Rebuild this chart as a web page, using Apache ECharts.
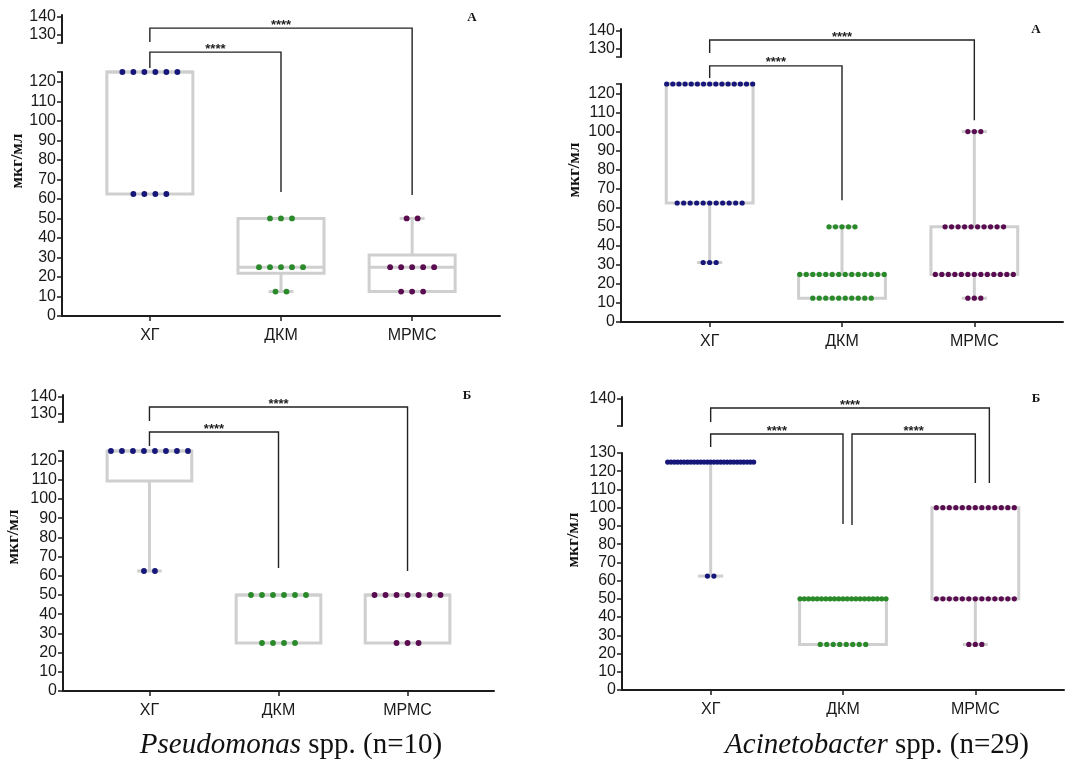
<!DOCTYPE html>
<html>
<head>
<meta charset="utf-8">
<script src="https://cdn.jsdelivr.net/npm/echarts@6/dist/echarts.min.js"></script>
<style>
  html, body { margin: 0; padding: 0; background: #ffffff; }
  #chart { width: 1076px; height: 766px; }
</style>
</head>
<body>
<div id="chart"></div>
<script>
// Groups on the x axis
const groups = ['ХГ', 'ДКМ', 'МРМС'];

// MIC values (мкг/мл) as [value, number of isolates]
// Pseudomonas spp., panel А
const pseudoA_XG   = [[125, 6], [62.5, 4]];
const pseudoA_DKM  = [[50, 3], [25, 5], [12.5, 2]];
const pseudoA_MRMS = [[50, 2], [25, 5], [12.5, 3]];
// Pseudomonas spp., panel Б
const pseudoB_XG   = [[125, 8], [62.5, 2]];
const pseudoB_DKM  = [[50, 6], [25, 4]];
const pseudoB_MRMS = [[50, 7], [25, 3]];
// Acinetobacter spp., panel А
const acinA_XG   = [[125, 15], [62.5, 11], [31.25, 3]];
const acinA_DKM  = [[50, 5], [25, 14], [12.5, 10]];
const acinA_MRMS = [[100, 3], [50, 10], [25, 13], [12.5, 3]];
// Acinetobacter spp., panel Б
const acinB_XG   = [[125, 27], [62.5, 2]];
const acinB_DKM  = [[50, 21], [25, 8]];
const acinB_MRMS = [[100, 13], [50, 13], [25, 3]];

// Pairwise comparisons: [group a, group b, significance]
const sigTwo   = [[0, 2, '****'], [0, 1, '****']];
const sigThree = [[0, 2, '****'], [0, 1, '****'], [1, 2, '****']];

// Tick values of the broken y axis
const ticksLow125 = [0, 10, 20, 30, 40, 50, 60, 70, 80, 90, 100, 110, 120];
const ticksLow130 = [0, 10, 20, 30, 40, 50, 60, 70, 80, 90, 100, 110, 120, 130];
const ticksHigh   = [130, 140];
const ticksHighB  = [140];

const groupColors = ['#17177a', '#2a8a2a', '#5a0c50'];

// Panel geometry and bracket placement (bracket heights in lower-axis units)
const panels = [
  {
    data: [pseudoA_XG, pseudoA_DKM, pseudoA_MRMS], sig: sigTwo, letter: 'А',
    lower: { left: 62, top: 72, width: 438, height: 244 },
    upper: { left: 62, top: 15, width: 438, height: 28 },
    yMax: 125, lowTicks: ticksLow125, highTicks: ticksHigh,
    title: [17.5, 161], letterPos: [472, 18], step: 11, r: 2.9,
    brackets: [[147.5, 140.4, 62, 0, 0], [135.2, 127, 63.5, 0, 0]]
  },
  {
    data: [acinA_XG, acinA_DKM, acinA_MRMS], sig: sigTwo, letter: 'А',
    lower: { left: 621, top: 84, width: 442, height: 238 },
    upper: { left: 621, top: 29, width: 442, height: 28 },
    yMax: 125, lowTicks: ticksLow125, highTicks: ticksHigh,
    title: [575, 170], letterPos: [1036, 30], step: 6.5, r: 2.6,
    brackets: [[148.1, 141.3, 106, 0, 0], [134.5, 128.2, 64, 0, 0]]
  },
  {
    data: [pseudoB_XG, pseudoB_DKM, pseudoB_MRMS], sig: sigTwo, letter: 'Б',
    lower: { left: 63, top: 451, width: 431, height: 240 },
    upper: { left: 63, top: 395, width: 431, height: 27 },
    yMax: 125, lowTicks: ticksLow125, highTicks: ticksHigh,
    title: [14, 537], letterPos: [467, 396], step: 11, r: 2.9,
    brackets: [[147.9, 140.6, 62.5, 0, 0], [134.9, 127.6, 64, 0, 0]]
  },
  {
    data: [acinB_XG, acinB_DKM, acinB_MRMS], sig: sigThree, letter: 'Б',
    lower: { left: 622, top: 453, width: 442, height: 237 },
    upper: { left: 622, top: 397, width: 442, height: 29 },
    yMax: 130, lowTicks: ticksLow130, highTicks: ticksHighB,
    title: [574, 540], letterPos: [1036, 399], step: 6.5, r: 2.6,
    brackets: [[154.7, 147, 113.5, 0, 0.106], [140.4, 133.3, 91, 0, 0], [140.4, 90.5, 113.5, 0.068, 0]]
  }
];

const X_MIN = 0.33, X_MAX = 3.67;
const BOX_HALF = 0.328, CAP_HALF = 0.095, DOT_SPAN = 86;
const AXIS_COLOR = '#1c1c1c';
const SANS = "'Liberation Sans', Arial, sans-serif";
const SERIF = "'Liberation Serif', 'Times New Roman', serif";

// Sorted list of all values in a group
function expand(rows) {
  const v = [];
  rows.forEach(([val, n]) => { for (let i = 0; i < n; i++) v.push(val); });
  return v.sort((a, b) => a - b);
}
// Percentile with (n+1)p positioning
function pct(s, p) {
  const pos = (s.length + 1) * p;
  const lo = Math.floor(pos), f = pos - lo;
  if (lo < 1) return s[0];
  if (lo >= s.length) return s[s.length - 1];
  return s[lo - 1] + f * (s[lo] - s[lo - 1]);
}

const grid = [], xAxis = [], yAxis = [], series = [], graphic = [];

panels.forEach((P, p) => {
  const gLow = 2 * p, gHigh = 2 * p + 1;
  grid.push(Object.assign({}, P.lower), Object.assign({}, P.upper));

  xAxis.push({
    type: 'value', gridIndex: gLow, min: X_MIN, max: X_MAX,
    axisLine: { show: true, onZero: false, lineStyle: { color: AXIS_COLOR, width: 2 } },
    axisTick: { show: true, customValues: [1, 2, 3], length: 5, lineStyle: { color: AXIS_COLOR, width: 1.5 } },
    axisLabel: {
      customValues: [1, 2, 3], formatter: v => groups[Math.round(v) - 1] || '',
      fontSize: 16, fontFamily: SANS, color: '#1a1a1a', margin: 12
    },
    splitLine: { show: false }
  });
  xAxis.push({ type: 'value', gridIndex: gHigh, min: X_MIN, max: X_MAX, show: false });

  yAxis.push({
    type: 'value', gridIndex: gLow, min: 0, max: P.yMax,
    axisLine: { show: true, lineStyle: { color: AXIS_COLOR, width: 2 } },
    axisTick: { show: true, customValues: P.lowTicks.concat(P.yMax === 125 ? [125] : []), length: 5, lineStyle: { color: AXIS_COLOR, width: 1.5 } },
    axisLabel: { customValues: P.lowTicks, fontSize: 16, fontFamily: SANS, color: '#1a1a1a', margin: 6 },
    splitLine: { show: false }
  });
  yAxis.push({
    type: 'value', gridIndex: gHigh, min: 125, max: 141,
    axisLine: { show: true, lineStyle: { color: AXIS_COLOR, width: 2 } },
    axisTick: { show: true, customValues: [125].concat(P.highTicks), length: 5, lineStyle: { color: AXIS_COLOR, width: 1.5 } },
    axisLabel: { customValues: P.highTicks, fontSize: 16, fontFamily: SANS, color: '#1a1a1a', margin: 6 },
    splitLine: { show: false }
  });

  // Box and whiskers, computed from the isolate values
  const boxData = P.data.map((rows, i) => {
    const s = expand(rows);
    return [i + 1, s[0], pct(s, 0.25), pct(s, 0.5), pct(s, 0.75), s[s.length - 1]];
  });
  series.push({
    type: 'custom', xAxisIndex: gLow, yAxisIndex: gLow, clip: false, silent: true, z: 2,
    data: boxData,
    renderItem: (params, api) => {
      const x = api.value(0), mn = api.value(1), q1 = api.value(2), md = api.value(3), q3 = api.value(4), mx = api.value(5);
      const st = { stroke: '#cfcfcf', lineWidth: 3, fill: null };
      const tl = api.coord([x - BOX_HALF, q3]), br = api.coord([x + BOX_HALF, q1]);
      const ch = [
        { type: 'rect', shape: { x: tl[0], y: tl[1], width: br[0] - tl[0], height: br[1] - tl[1] }, style: st },
      ];
      const line = (a, b) => ({ type: 'line', shape: { x1: a[0], y1: a[1], x2: b[0], y2: b[1] }, style: st });
      ch.push(line(api.coord([x - BOX_HALF, md]), api.coord([x + BOX_HALF, md])));
      if (mx > q3) {
        ch.push(line(api.coord([x, q3]), api.coord([x, mx])));
        ch.push(line(api.coord([x - CAP_HALF, mx]), api.coord([x + CAP_HALF, mx])));
      }
      if (mn < q1) {
        ch.push(line(api.coord([x, q1]), api.coord([x, mn])));
        ch.push(line(api.coord([x - CAP_HALF, mn]), api.coord([x + CAP_HALF, mn])));
      }
      return { type: 'group', children: ch };
    }
  });

  // Individual isolates, one row of dots per value
  const dotData = [];
  P.data.forEach((rows, i) => rows.forEach(([val, n]) => dotData.push([i + 1, val, n, i])));
  series.push({
    type: 'custom', xAxisIndex: gLow, yAxisIndex: gLow, clip: false, silent: true, z: 3,
    data: dotData,
    renderItem: (params, api) => {
      const x = api.value(0), v = api.value(1), n = api.value(2), g = api.value(3);
      const c = api.coord([x, v]);
      const step = n > 1 ? Math.min(P.step, DOT_SPAN / (n - 1)) : 0;
      const ch = [];
      for (let k = 0; k < n; k++) {
        ch.push({ type: 'circle', shape: { cx: c[0] + (k - (n - 1) / 2) * step, cy: c[1], r: P.r }, style: { fill: groupColors[g] } });
      }
      return { type: 'group', children: ch };
    }
  });

  // Significance brackets
  const brData = P.sig.map(([a, b], k) => {
    const g = P.brackets[k];
    return [a + 1 + g[3], b + 1 + g[4], g[0], g[1], g[2], k];
  });
  series.push({
    type: 'custom', xAxisIndex: gLow, yAxisIndex: gLow, clip: false, silent: true, z: 4,
    data: brData,
    renderItem: (params, api) => {
      const xa = api.value(0), xb = api.value(1), yr = api.value(2), ya = api.value(3), yb = api.value(4);
      const A = api.coord([xa, ya]), Ar = api.coord([xa, yr]), Br = api.coord([xb, yr]), B = api.coord([xb, yb]);
      return {
        type: 'group', children: [
          { type: 'polyline', shape: { points: [A, Ar, Br, B] }, style: { stroke: '#222', lineWidth: 1.4, fill: null } },
          { type: 'text', x: (Ar[0] + Br[0]) / 2, y: Ar[1] - 3,
            style: { text: P.sig[api.value(5)][2], fill: '#222', font: 'bold 13px ' + SANS, align: 'center', verticalAlign: 'middle' } }
        ]
      };
    }
  });

  graphic.push({
    type: 'text', x: P.title[0], y: P.title[1], rotation: Math.PI / 2, silent: true,
    style: { text: 'мкг/мл', fill: '#111', font: 'bold 17px ' + SERIF, align: 'center', verticalAlign: 'middle' }
  });
  graphic.push({
    type: 'text', x: P.letterPos[0], y: P.letterPos[1], silent: true,
    style: { text: P.letter, fill: '#111', font: 'bold 13px ' + SERIF, align: 'center', verticalAlign: 'middle' }
  });
});

// Captions under each column
const captions = [
  { genus: 'Pseudomonas', rest: ' spp. (n=10)', pos: [291, 745] },
  { genus: 'Acinetobacter', rest: ' spp. (n=29)', pos: [877, 745] }
];
captions.forEach(c => graphic.push({
  type: 'text', x: c.pos[0], y: c.pos[1], silent: true,
  style: {
    text: '{i|' + c.genus + '}' + c.rest, fill: '#111', fontSize: 29, fontFamily: SERIF,
    align: 'center', verticalAlign: 'middle',
    rich: { i: { fontStyle: 'italic', fontSize: 29, fontFamily: SERIF, fill: '#111' } }
  }
}));

const chart = echarts.init(document.getElementById('chart'), null, { renderer: 'canvas' });
chart.setOption({
  backgroundColor: '#ffffff',
  animation: false,
  grid, xAxis, yAxis, series, graphic
});
</script>
</body>
</html>
